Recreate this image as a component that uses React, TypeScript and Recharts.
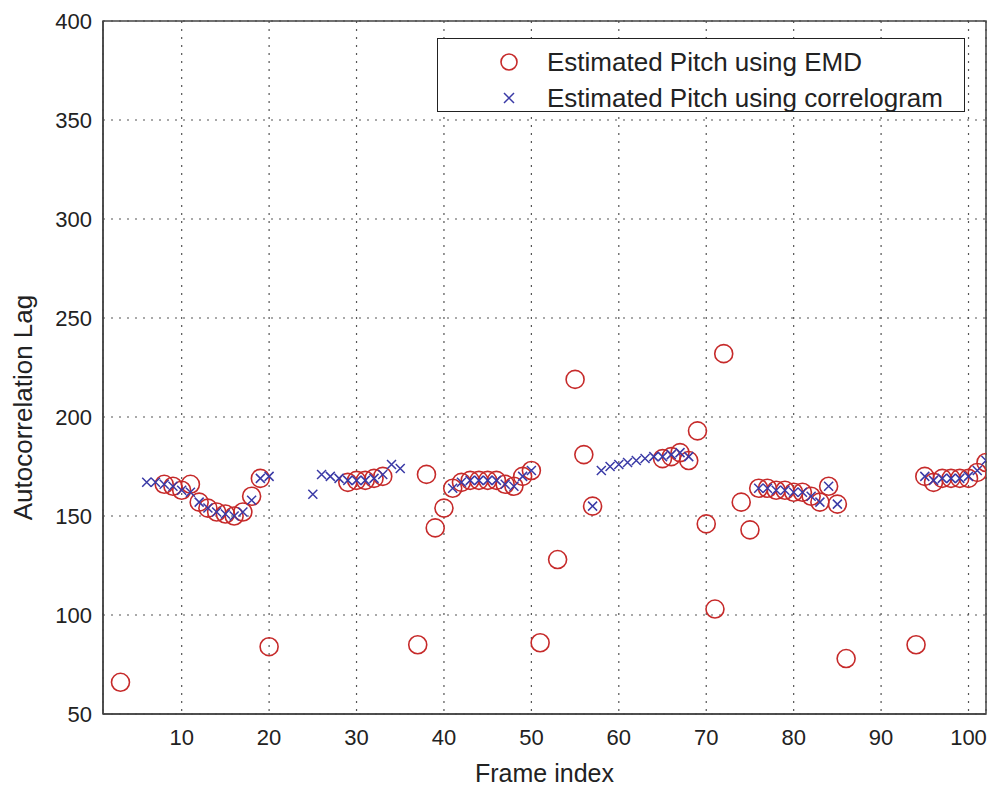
import {
  ScatterChart,
  Scatter,
  XAxis,
  YAxis,
  CartesianGrid,
  Legend,
  ReferenceArea,
  Label,
} from "recharts";

// frame indices and autocorrelation lag
const emdFrames = [
  3, 8, 9, 10, 11, 12, 13, 14, 15, 16, 17, 18, 19, 20, 29, 30, 31, 32, 33, 37,
  38, 39, 40, 41, 42, 43, 44, 45, 46, 47, 48, 49, 50, 51, 53, 55, 56, 57, 65,
  66, 67, 68, 69, 70, 71, 72, 74, 75, 76, 77, 78, 79, 80, 81, 82, 83, 84, 85,
  86, 94, 95, 96, 97, 98, 99, 100, 101, 102,
];
const emdLag = [
  66, 166, 165, 163, 166, 157, 154, 152, 151, 150, 152, 160, 169, 84, 167, 168,
  168, 169, 170, 85, 171, 144, 154, 164, 167, 168, 168, 168, 168, 166, 165, 170,
  173, 86, 128, 219, 181, 155, 179, 180, 182, 178, 193, 146, 103, 232, 157, 143,
  164, 164, 163, 163, 162, 162, 160, 157, 165, 156, 78, 85, 170, 167, 169, 169,
  169, 169, 172, 177,
];

const corrFrames = [
  6, 7, 8, 9, 10, 11, 12, 13, 14, 15, 16, 17, 18, 19, 20, 25, 26, 27, 28, 29,
  30, 31, 32, 33, 34, 35, 41, 42, 43, 44, 45, 46, 47, 48, 49, 50, 57, 58, 59,
  60, 61, 62, 63, 64, 65, 66, 67, 68, 76, 77, 78, 79, 80, 81, 82, 83, 84, 85,
  95, 96, 97, 98, 99, 100, 101, 102,
];
const corrLag = [
  167, 167, 166, 165, 163, 162, 157, 154, 152, 151, 150, 152, 158, 169, 170,
  161, 171, 170, 169, 168, 168, 168, 169, 171, 176, 174, 164, 167, 168, 168,
  168, 168, 166, 165, 170, 173, 155, 173, 175, 176, 177, 178, 179, 180, 180,
  181, 182, 180, 164, 164, 163, 163, 162, 162, 160, 157, 165, 156, 170, 168,
  169, 169, 169, 170, 173, 178,
];

const xTicks = [10, 20, 30, 40, 50, 60, 70, 80, 90, 100];
const yTicks = [50, 100, 150, 200, 250, 300, 350, 400];

const emdData = emdFrames.map((f, i) => ({ frame: f, lag: emdLag[i] }));
const corrData = corrFrames.map((f, i) => ({ frame: f, lag: corrLag[i] }));

const FONT = "'Liberation Sans', Arial, sans-serif";
const RED = "#c62a2a";
const BLUE = "#3a3aa6";

const RedCircle = (props: any) => (
  <circle cx={props.cx} cy={props.cy} r={9} fill="none" stroke={RED} strokeWidth={1.6} />
);

const BlueCross = (props: any) => {
  const { cx, cy } = props;
  const s = 4.5;
  return (
    <path
      d={`M${cx - s},${cy - s}L${cx + s},${cy + s}M${cx - s},${cy + s}L${cx + s},${cy - s}`}
      stroke={BLUE}
      strokeWidth={1.5}
      fill="none"
    />
  );
};

const legendItems = [
  { name: "Estimated Pitch using EMD", marker: "o" },
  { name: "Estimated Pitch using correlogram", marker: "x" },
];

const LegendBox = () => (
  <div
    style={{
      width: 528,
      height: 74,
      border: "1.5px solid #222",
      background: "#fff",
      boxSizing: "border-box",
      position: "relative",
      fontFamily: FONT,
      fontSize: 26,
      color: "#222",
    }}
  >
    {legendItems.map((it, i) => (
      <div
        key={it.name}
        style={{
          position: "absolute",
          left: 55,
          top: 8 + i * 36,
          height: 30,
          display: "flex",
          alignItems: "center",
          whiteSpace: "nowrap",
        }}
      >
        <svg width={32} height={30} style={{ marginRight: 22 }}>
          {it.marker === "o" ? (
            <circle cx={16} cy={15} r={8} fill="none" stroke={RED} strokeWidth={1.6} />
          ) : (
            <path d="M11,10L21,20M11,20L21,10" stroke={BLUE} strokeWidth={1.5} />
          )}
        </svg>
        <span>{it.name}</span>
      </div>
    ))}
  </div>
);

export default function App() {
  return (
    <div
      style={{
        position: "fixed",
        left: 0,
        top: 0,
        width: 990,
        height: 791,
        overflow: "hidden",
        background: "#fff",
      }}
    >
      <ScatterChart
        width={990}
        height={791}
        margin={{ top: 21, right: 4, bottom: 37, left: 43 }}
      >
        <CartesianGrid stroke="#555" strokeDasharray="2 6" strokeWidth={1.2} />
        <XAxis
          type="number"
          dataKey="frame"
          domain={[1, 102]}
          ticks={xTicks}
          allowDataOverflow
          height={40}
          tickLine={false}
          tickMargin={9}
          axisLine={{ stroke: "#444", strokeWidth: 1.5 }}
          tick={{ fontSize: 22, fill: "#222", fontFamily: FONT }}
        >
          <Label
            value="Frame index"
            position="bottom"
            offset={10}
            style={{ fontSize: 25, fill: "#222", fontFamily: FONT }}
          />
        </XAxis>
        <YAxis
          type="number"
          dataKey="lag"
          domain={[50, 400]}
          ticks={yTicks}
          allowDataOverflow
          width={60}
          tickLine={false}
          tickMargin={5}
          axisLine={{ stroke: "#444", strokeWidth: 1.5 }}
          tick={{ fontSize: 22, fill: "#222", fontFamily: FONT }}
        >
          <Label
            value="Autocorrelation Lag"
            angle={-90}
            position="insideLeft"
            offset={-20}
            dy={40}
            style={{ fontSize: 26, fill: "#222", fontFamily: FONT, textAnchor: "middle" }}
          />
        </YAxis>
        <ReferenceArea
          x1={1}
          x2={102}
          y1={50}
          y2={400}
          fill="none"
          stroke="#444"
          strokeWidth={1.5}
          ifOverflow="visible"
        />
        <Legend
          layout="vertical"
          align="center"
          verticalAlign="middle"
          content={() => <LegendBox />}
          wrapperStyle={{ position: "absolute", left: 437, top: 38, width: 528 }}
        />
        <Scatter
          name="Estimated Pitch using EMD"
          data={emdData}
          shape={RedCircle}
          isAnimationActive={false}
        />
        <Scatter
          name="Estimated Pitch using correlogram"
          data={corrData}
          shape={BlueCross}
          isAnimationActive={false}
        />
      </ScatterChart>
    </div>
  );
}
